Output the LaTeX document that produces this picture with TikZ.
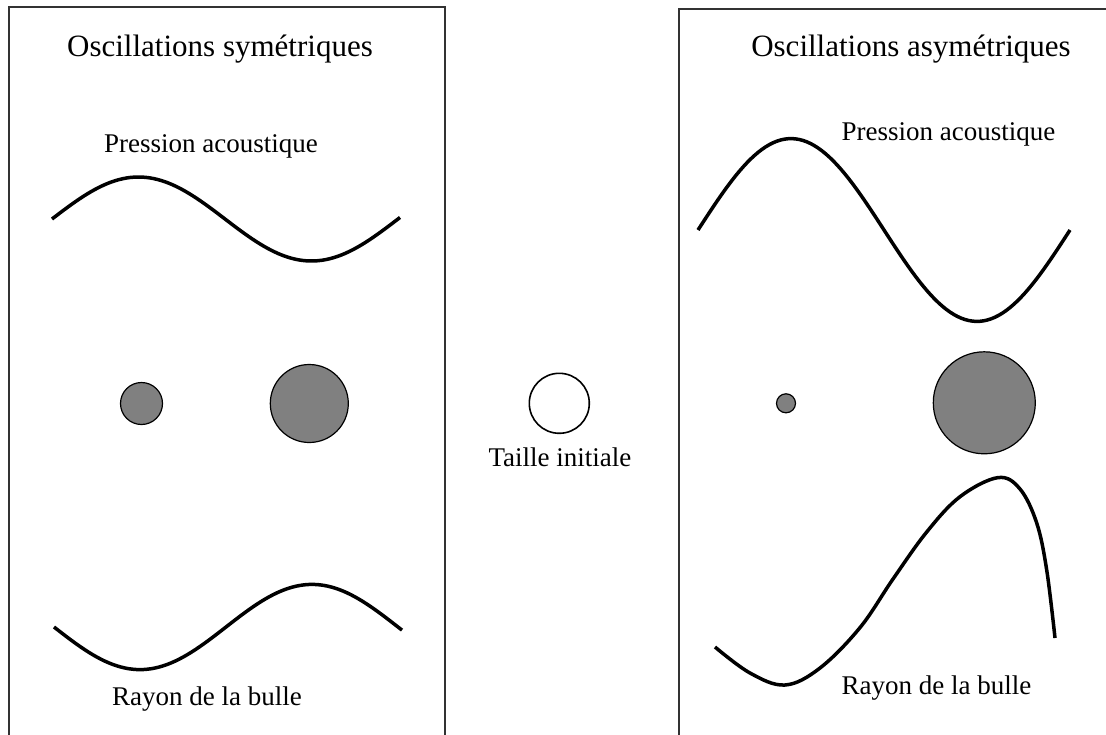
\documentclass[tikz,border=0pt]{standalone}
\usepackage{fontspec}
\setmainfont{Liberation Serif}
\usepackage{tikz}
\usetikzlibrary{positioning}
\definecolor{bubblegray}{RGB}{128,128,128}
\definecolor{framegray}{RGB}{50,50,50}

\begin{document}
\begin{tikzpicture}[
        x=1pt, y=-1pt,
        heading/.style={anchor=base,inner sep=0pt,font=\fontsize{31}{36}\selectfont},
        note/.style={anchor=base,inner sep=0pt,font=\fontsize{27}{32}\selectfont},
        bubble/.style={circle,draw,fill=bubblegray,line width=1.2pt,inner sep=0pt},
        wave/.style={line width=3.5pt,line join=round},
        frame/.style={draw=framegray,line width=1.8pt}
      ]
        \clip (0,0) rectangle (1106,734);
        \fill[white] (0,0) rectangle (1106,734);

        % frames
        \draw[frame] (9,745) -- (9,7) -- (445,7) -- (445,745);
        \draw[frame] (679,745) -- (679,9) -- (1115,9);

        % symmetric side
        \node[heading] (symtitle) at (220,56) {Oscillations symétriques};
        \node[note]    (sympress) at (211,152) {Pression acoustique};
        \node[note]    (symrad)   at (207,705) {Rayon de la bulle};
        \node[bubble,minimum size=42pt] (symsmall) at (141.5,403.5) {};
        \node[bubble,minimum size=78pt] (symlarge) at (309.3,403.5) {};
        \draw[wave] plot[domain=52:400,samples=90] (\x,{219-42*sin((\x-52)/346*360)});
        \draw[wave] plot[domain=54:402,samples=90] (\x,{627+42.6*sin((\x-54)/344*360)});

        % initial size
        \node[circle,draw,line width=1.6pt,minimum size=60pt,inner sep=0pt] (initial) at (559.3,403.3) {};
        \node[note] (initlabel) at (560,466) {Taille initiale};

        % asymmetric side
        \node[heading] (asymtitle) at (911,56) {Oscillations asymétriques};
        \node[note]    (asympress) at (948.5,140) {Pression acoustique};
        \node[note]    (asymrad)   at (936.5,694) {Rayon de la bulle};
        \node[bubble,minimum size=19pt]  (asymsmall) at (786,403.3) {};
        \node[bubble,minimum size=102pt] (asymlarge) at (984.3,402.8) {};
        \draw[wave] plot[domain=698:1070,samples=100] (\x,{230-91.4*sin((\x-698)/372*360)});
        \draw[wave] plot[smooth,tension=0.6] coordinates {
            (715,647) (750,673) (785,685) (820,668) (860,627.6) (893,579)
            (926.7,532) (960,496.7) (998,477.6) (1020,489) (1036.7,523)
            (1046.7,570) (1055,638)};
      \end{tikzpicture}
\end{document}
